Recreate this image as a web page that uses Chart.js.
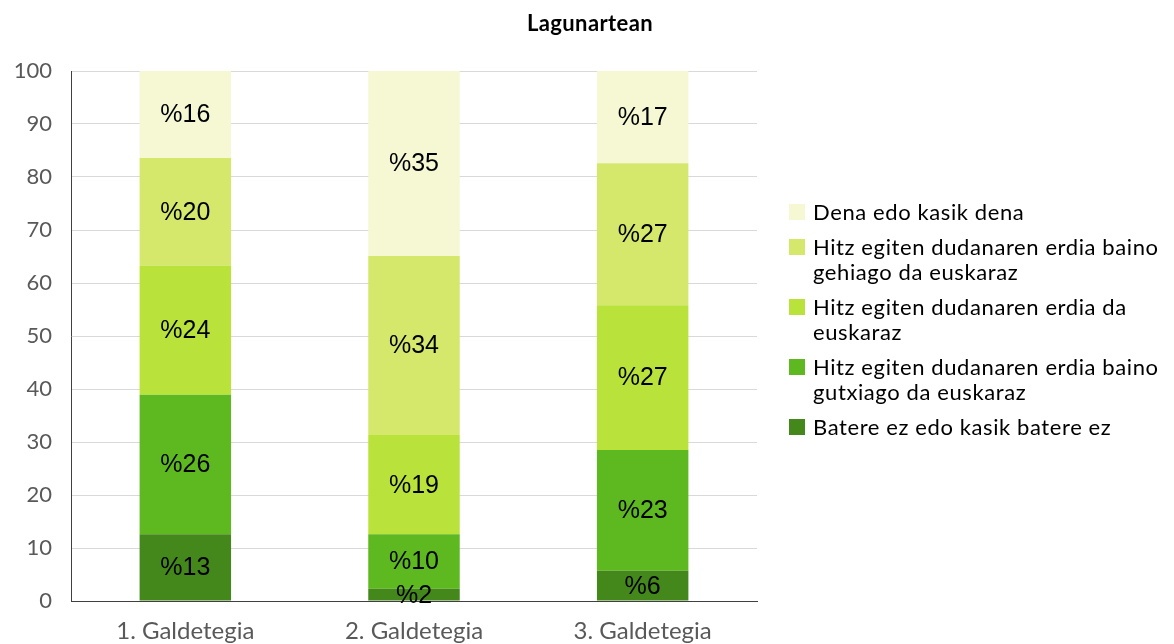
<!DOCTYPE html>
<html>
<head>
<meta charset="utf-8">
<script src="https://cdn.jsdelivr.net/npm/chart.js@4/dist/chart.umd.min.js"></script>
<style>
  body { margin: 0; background: #fff; }
  #wrap { position: relative; width: 1174px; height: 644px; }
  #chart { position: absolute; left: 0; top: 0; }
  #title { position: absolute; left: 0; width: 1180px; top: 9px; text-align: center;
           font: bold 22px Lato, sans-serif; letter-spacing: 0.4px; color: #000; }
  #legend { position: absolute; left: 789px; top: 199px; font: 22px Lato, sans-serif;
            letter-spacing: 0.6px; color: #000; }
  .item { display: flex; align-items: flex-start; margin-bottom: 10px; line-height: 25px; }
  .box { width: 16px; height: 16px; margin-top: 5px; margin-right: 8px; flex: none; }
  .txt { white-space: pre-line; }
</style>
</head>
<body>
<div id="wrap">
  <canvas id="chart" width="1174" height="644"></canvas>
  <div id="title">Lagunartean</div>
  <div id="legend"></div>
</div>
<script>
const categories = ['1. Galdetegia', '2. Galdetegia', '3. Galdetegia'];
const seriesNames = [
  'Batere ez edo kasik batere ez',
  'Hitz egiten dudanaren erdia baino\ngutxiago da euskaraz',
  'Hitz egiten dudanaren erdia da\neuskaraz',
  'Hitz egiten dudanaren erdia baino\ngehiago da euskaraz',
  'Dena edo kasik dena'
];
const batere = [12.6, 2.3, 5.7];
const gutxiago = [26.3, 10.3, 22.8];
const erdia = [24.4, 18.7, 27.3];
const gehiago = [20.3, 33.8, 26.8];
const dena = [16.4, 34.9, 17.4];
const yTicks = [0, 10, 20, 30, 40, 50, 60, 70, 80, 90, 100];
const colors = ['#44871a', '#5eb820', '#b9e33b', '#d5e86c', '#f5f8d3'];

const seriesValues = [batere, gutxiago, erdia, gehiago, dena];

// etiketak barren erdian
const barLabels = {
  id: 'barLabels',
  afterDatasetsDraw(chart) {
    const ctx = chart.ctx;
    ctx.save();
    ctx.font = '25px "Liberation Sans", Arial, sans-serif';
    ctx.fillStyle = '#000';
    ctx.textAlign = 'center';
    ctx.textBaseline = 'middle';
    chart.data.datasets.forEach((ds, i) => {
      chart.getDatasetMeta(i).data.forEach((bar, j) => {
        const p = bar.getProps(['x', 'y', 'base'], true);
        ctx.fillText('%' + Math.round(ds.data[j]), p.x, (p.y + p.base) / 2 + 1);
      });
    });
    ctx.restore();
  }
};

new Chart(document.getElementById('chart'), {
  type: 'bar',
  data: {
    labels: categories,
    datasets: seriesValues.map((vals, i) => ({
      label: seriesNames[i],
      data: vals,
      backgroundColor: colors[i],
      barPercentage: 0.4,
      categoryPercentage: 1
    }))
  },
  options: {
    responsive: false,
    animation: false,
    layout: { padding: { top: 71, right: 417, left: 0, bottom: 0 } },
    plugins: {
      legend: { display: false },
      tooltip: { enabled: false }
    },
    scales: {
      x: {
        stacked: true,
        afterFit: axis => { axis.height = 43; },
        grid: { display: false, drawTicks: false },
        border: { color: '#404040', width: 1 },
        ticks: { color: '#595959', font: { family: 'Lato', size: 24 }, padding: 16 }
      },
      y: {
        stacked: true,
        min: 0, max: 100,
        afterBuildTicks: axis => { axis.ticks = yTicks.map(v => ({ value: v })); },
        afterFit: axis => { axis.width = 71; },
        grid: { color: '#d9d9d9', drawTicks: false },
        border: { color: '#404040', width: 1 },
        ticks: { color: '#595959', font: { family: 'Lato', size: 22 }, padding: 19 }
      }
    }
  },
  plugins: [barLabels]
});

// legenda: goikoa lehenengo
const legend = document.getElementById('legend');
for (let i = seriesNames.length - 1; i >= 0; i--) {
  const item = document.createElement('div');
  item.className = 'item';
  item.innerHTML = '<div class="box" style="background:' + colors[i] + '"></div><div class="txt"></div>';
  item.querySelector('.txt').textContent = seriesNames[i];
  legend.appendChild(item);
}
</script>
</body>
</html>
